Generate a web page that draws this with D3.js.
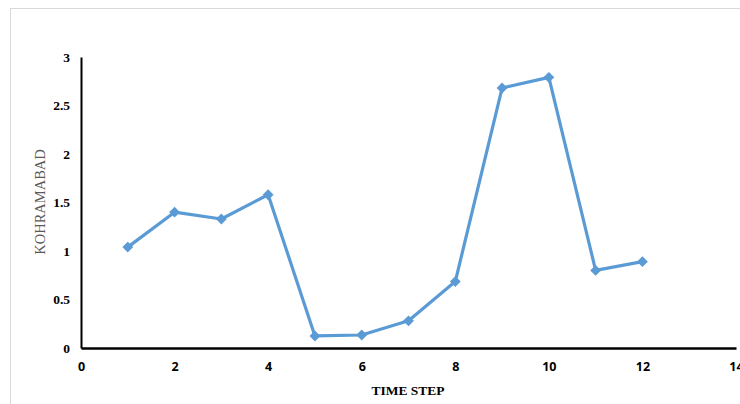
<!DOCTYPE html>
<html><head><meta charset="utf-8">
<script src="https://cdn.jsdelivr.net/npm/d3@7"></script>
<style>html,body{margin:0;padding:0;background:#fff;}</style>
</head><body>
<script>
const timeSteps = [1,2,3,4,5,6,7,8,9,10,11,12];
const values = [1.04,1.40,1.33,1.58,0.124,0.134,0.28,0.685,2.68,2.79,0.80,0.89];
const xTicks = [0,2,4,6,8,10,12,14];
const yTicks = [0,0.5,1,1.5,2,2.5,3];
const xLabel = "TIME STEP";
const yLabel = "KOHRAMABAD";

const W = 740, H = 404;
const svg = d3.select("body").append("svg").attr("width", W).attr("height", H);

svg.append("rect").attr("x",10.5).attr("y",8.5).attr("width",W).attr("height",H)
  .attr("fill","#fff").attr("stroke","#d9d9d9").attr("stroke-width",1);

const x = d3.scaleLinear().domain([0,14]).range([81,736]);
const y = d3.scaleLinear().domain([0,3]).range([348,57]);

// y axis
const yAxis = svg.append("g").attr("transform","translate(81,0)")
  .call(d3.axisLeft(y).tickValues(yTicks).tickSize(0).tickPadding(11).tickFormat(d3.format("")));
yAxis.select(".domain").attr("stroke","#000").attr("stroke-width",2);
yAxis.selectAll("text").attr("font-family","'Liberation Serif', 'Times New Roman', serif")
  .attr("font-weight","bold").attr("font-size","13.5px").attr("fill","#000");

// x axis
const xAxis = svg.append("g").attr("transform","translate(0,348)")
  .call(d3.axisBottom(x).tickValues(xTicks).tickSize(0).tickPadding(14).tickFormat(d3.format("")));
xAxis.select(".domain").attr("stroke","#000").attr("stroke-width",2.5);
xAxis.selectAll("text").attr("font-family","'Open Sans', 'Liberation Sans', sans-serif")
  .attr("font-weight","bold").attr("font-size","12.5px").attr("fill","#000");

// labels
svg.append("text").attr("x",408).attr("y",395).attr("text-anchor","middle")
  .attr("font-family","'Liberation Serif', 'Times New Roman', serif").attr("font-weight","bold")
  .attr("font-size","13.5px").attr("fill","#000").text(xLabel);
svg.append("text").attr("transform","translate(45,202) rotate(-90)").attr("text-anchor","middle")
  .attr("font-family","'Liberation Serif', 'Times New Roman', serif")
  .attr("font-size","14.5px").attr("fill","#595959").text(yLabel);

// line
const data = timeSteps.map((t,i)=>({t, v: values[i]}));
svg.append("path").datum(data)
  .attr("fill","none").attr("stroke","#5B9BD5").attr("stroke-width",3.2).attr("stroke-linejoin","round")
  .attr("d", d3.line().x(d=>x(d.t)).y(d=>y(d.v)));

svg.selectAll(".mk").data(data).enter().append("path")
  .attr("class","mk")
  .attr("transform", d=>`translate(${x(d.t)},${y(d.v)})`)
  .attr("d", d3.symbol(d3.symbolDiamond2, 75)())
  .attr("fill","#5B9BD5");
</script>
</body></html>
